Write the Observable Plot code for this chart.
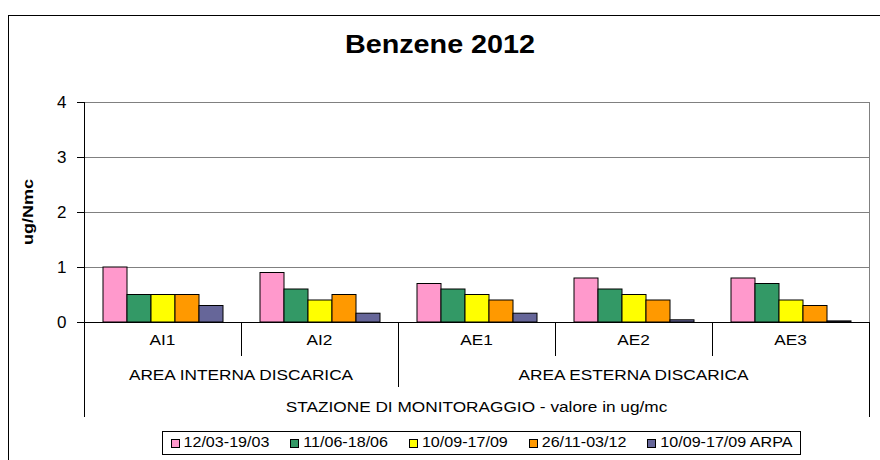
<!DOCTYPE html>
<html><head><meta charset="utf-8">
<script src="https://cdn.jsdelivr.net/npm/d3@7"></script>
<script src="https://cdn.jsdelivr.net/npm/@observablehq/plot@0.6"></script>
<style>
html,body{margin:0;padding:0;background:#fff}
#chart svg{display:block}
</style></head><body><div id="chart"></div>
<script>
// ---- data ----
const stations = ["AI1", "AI2", "AE1", "AE2", "AE3"];
const areaNames = ["AREA INTERNA DISCARICA", "AREA ESTERNA DISCARICA"];
const areaStations = [["AI1", "AI2"], ["AE1", "AE2", "AE3"]];
const periods = ["12/03-19/03", "11/06-18/06", "10/09-17/09", "26/11-03/12", "10/09-17/09 ARPA"];
const colors = ["#FF99CC", "#339966", "#FFFF00", "#FF9900", "#666699"];
const s1 = [1.0, 0.9, 0.7, 0.8, 0.8];
const s2 = [0.5, 0.6, 0.6, 0.6, 0.7];
const s3 = [0.5, 0.4, 0.5, 0.5, 0.4];
const s4 = [0.5, 0.5, 0.4, 0.4, 0.3];
const s5 = [0.3, 0.16, 0.16, 0.04, 0.02];
const yTicks = [0, 1, 2, 3, 4];
const titleText = "Benzene 2012";
const yLabel = "ug/Nmc";
const xTitle = "STAZIONE DI MONITORAGGIO - valore in ug/mc";

const seriesValues = [s1, s2, s3, s4, s5];
const data = [];
stations.forEach((st, i) => periods.forEach((p, j) => data.push({station: st, period: p, value: seriesValues[j][i]})));

const FONT = "'Liberation Sans', Arial, sans-serif";
const W = 880, H = 460;

const plot = Plot.plot({
  width: W, height: H,
  marginTop: 102, marginBottom: 138, marginLeft: 84, marginRight: 11,
  style: {fontFamily: FONT, fontSize: "17px", color: "#000", background: "transparent", overflow: "visible"},
  fx: {domain: stations, padding: 0, axis: null, label: null},
  x: {domain: periods, paddingInner: 0, paddingOuter: 0.73, axis: null, label: null},
  y: {domain: [0, 4], ticks: yTicks, tickSize: 7, tickPadding: 11, label: null, tickFormat: d => String(d)},
  color: {domain: periods, range: colors},
  marks: [
    Plot.ruleY(yTicks.slice(1), {stroke: "#808080", strokeWidth: 1}),
    Plot.barY(data, {fx: "station", x: "period", y: "value", fill: "period", stroke: "#000", strokeWidth: 1}),
    Plot.ruleY([0], {stroke: "#000", strokeWidth: 1})
  ]
});
document.getElementById("chart").appendChild(plot);

// ---- decorations placed with the plot's own scales ----
const svg = d3.select(plot);
const fxS = plot.scale("fx"), yS = plot.scale("y");
let fxApply, bw;
if (fxS && fxS.apply) { fxApply = fxS.apply; bw = fxS.bandwidth; }
else {
  const b = d3.scaleBand().domain(fxS.domain).range(fxS.range).padding(0);
  fxApply = b; bw = b.bandwidth();
}
const yApply = yS.apply ? yS.apply : d3.scaleLinear().domain(yS.domain).range(yS.range);
const x0 = fxApply(stations[0]);
const x1 = fxApply(stations[stations.length - 1]) + bw;
const yTop = yApply(4), yBase = yApply(0);
const g = svg.append("g").attr("fill", "none");
const line = (xa, ya, xb, yb, c) => g.append("line").attr("x1", xa).attr("y1", ya).attr("x2", xb).attr("y2", yb).attr("stroke", c || "#000").attr("stroke-width", 1);
const tableBottom = yBase + 95;
// outer frame
g.append("rect").attr("x", 8.5).attr("y", 15.5).attr("width", W + 20).attr("height", H + 20).attr("stroke", "#000");
// axis & table lines
line(Math.round(x0) + 0.5, yTop, Math.round(x0) + 0.5, tableBottom);
line(Math.round(x1) + 0.5, yTop, Math.round(x1) + 0.5, yBase, "#808080");
line(Math.round(x1) + 0.5, yBase, Math.round(x1) + 0.5, tableBottom);
stations.forEach((st, i) => {
  if (i === 0) return;
  const xx = Math.round(fxApply(st)) + 0.5;
  const isArea = areaStations[0].length === i;
  line(xx, yBase, xx, yBase + (isArea ? 65 : 34));
});

const txt = (x, y, s, opts = {}) => {
  const t = svg.append("text")
    .attr("transform", `translate(${x},${y})` + (opts.rot ? ` rotate(${opts.rot})` : "") + ` scale(${opts.sx || 1.15},1)`)
    .attr("text-anchor", "middle").attr("dominant-baseline", "middle")
    .attr("font-family", FONT).attr("font-size", opts.size || 15)
    .attr("font-weight", opts.bold ? "bold" : "normal").attr("fill", "#000").text(s);
  return t;
};
// station labels
stations.forEach(st => txt(fxApply(st) + bw / 2, yBase + 19, st));
// area labels
areaStations.forEach((arr, k) => {
  const a = fxApply(arr[0]), b = fxApply(arr[arr.length - 1]) + bw;
  txt((a + b) / 2, yBase + 54, areaNames[k]);
});
txt((x0 + x1) / 2, yBase + 86, xTitle);
// title & y label
txt(W / 2, 46, titleText, {size: 25, bold: true});
txt(29, (yTop + yBase) / 2, yLabel, {size: 15, bold: true, rot: -90, sx: 1.2});

// legend
const lg = svg.append("g");
const lgX = 162.5, lgY = 431.5, lgW = 638, lgH = 23;
lg.append("rect").attr("x", lgX).attr("y", lgY).attr("width", lgW).attr("height", lgH).attr("fill", "#fff").attr("stroke", "#000");
const sx = 1.15;
const items = periods.map((p, i) => {
  const t = lg.append("text").attr("font-family", FONT).attr("font-size", 14).attr("fill", "#000")
    .attr("text-anchor", "start").attr("dominant-baseline", "middle").text(p);
  return {t, w: t.node().getComputedTextLength() * sx};
});
const sq = 8, gapSq = 5;
const totalW = d3.sum(items, d => d.w + sq + gapSq);
const gap = (lgW - 16 - totalW) / (items.length - 1);
let cx = lgX + 8;
items.forEach((it, i) => {
  lg.append("rect").attr("x", Math.round(cx) + 0.5).attr("y", lgY + 8).attr("width", sq).attr("height", sq)
    .attr("fill", colors[i]).attr("stroke", "#000");
  const tx = cx + sq + gapSq;
  it.t.attr("transform", `translate(${tx},${lgY + lgH / 2 + 0.5}) scale(${sx},1)`);
  cx = tx + it.w + gap;
});
</script>
</body></html>
